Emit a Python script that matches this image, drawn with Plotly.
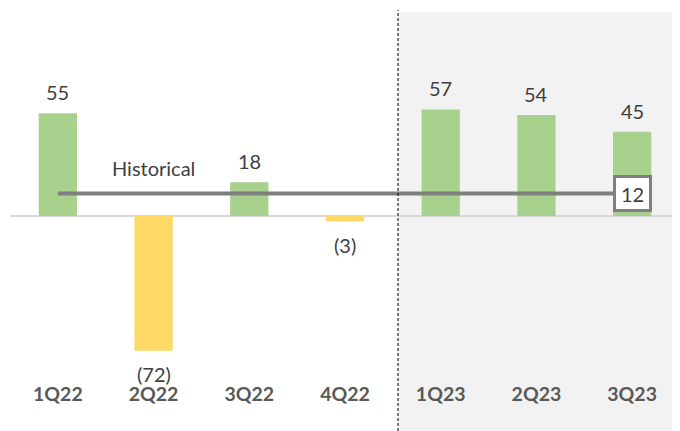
import plotly.graph_objects as go

categories = ["1Q22", "2Q22", "3Q22", "4Q22", "1Q23", "2Q23", "3Q23"]
values = [55, -72, 18, -3, 57, 54, 45]
historical_value = 12
historical_label = "Historical"

GREEN = "#a9d18e"
YELLOW = "#ffd966"
FONT = "Lato"

# page body has an 8px default margin, so figure is sized to fit the window
W, H = 672, 423
ML, MR, MT, MB = 2, 0, 0, 51
plot_h = H - MT - MB
plot_w = W - ML - MR
zero_px = 208
scale = 1.87
y_top = zero_px / scale
y_bot = -(plot_h - zero_px) / scale

def fmt(v):
    return f"({abs(v)})" if v < 0 else f"{v}"

fig = go.Figure()
fig.add_trace(go.Bar(
    x=categories, y=values,
    marker_color=[GREEN if v >= 0 else YELLOW for v in values],
    marker_line_width=0,
    width=0.4,
    hoverinfo="skip",
))
fig.add_trace(go.Scatter(
    x=categories, y=[historical_value] * len(categories),
    mode="lines",
    line=dict(color="#7f7f7f", width=4),
    hoverinfo="skip",
))

label_font = dict(family=FONT, size=20, color="#404040")
annotations = []
for c, v in zip(categories, values):
    annotations.append(dict(
        x=c, y=v, xref="x", yref="y", text=fmt(v), showarrow=False,
        yanchor="middle", yshift=21 if v >= 0 else -23,
        font=label_font,
    ))
annotations.append(dict(
    x=categories[1], y=historical_value, xref="x", yref="y",
    text=historical_label, showarrow=False, yanchor="middle", yshift=26,
    font=label_font,
))
annotations.append(dict(
    x=categories[-1], y=historical_value, xref="x", yref="y",
    text=str(historical_value), showarrow=False,
    xanchor="center", yanchor="middle",
    width=27, height=25,
    bgcolor="white", bordercolor="#7f7f7f", borderwidth=3, borderpad=3,
    font=label_font,
))

x_div = (390 - ML) / plot_w
y_bottom_paper = -MB / plot_h
shapes = [
    dict(type="rect", xref="paper", yref="paper",
         x0=x_div, x1=1, y0=y_bottom_paper, y1=(plot_h - 4) / plot_h,
         fillcolor="#f2f2f2", line_width=0, layer="below"),
    dict(type="line", xref="paper", yref="paper",
         x0=x_div, x1=x_div, y0=y_bottom_paper, y1=(plot_h - 2) / plot_h,
         line=dict(color="black", width=1, dash="3px,2px"), layer="above"),
]

fig.update_layout(
    width=W, height=H,
    margin=dict(l=ML, r=MR, t=MT, b=MB),
    paper_bgcolor="white", plot_bgcolor="rgba(0,0,0,0)",
    showlegend=False,
    annotations=annotations, shapes=shapes,
    xaxis=dict(showgrid=False, zeroline=False, showline=False, ticks="",
               tickfont=dict(family=FONT, size=19.5, color="#595959", weight="bold")),
    yaxis=dict(range=[y_bot, y_top], showgrid=False, showticklabels=False,
               zeroline=True, zerolinecolor="#d9d9d9", zerolinewidth=2, showline=False),
)

fig.write_html("out.html")
